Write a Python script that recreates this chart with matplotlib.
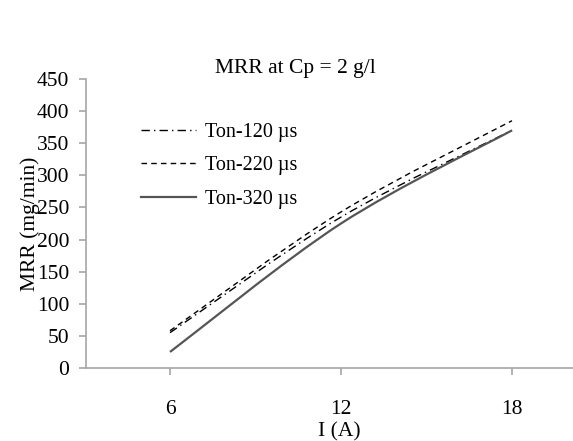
import numpy as np
import matplotlib.pyplot as plt
from matplotlib.path import Path
from matplotlib.patches import PathPatch

current = [6, 12, 18]
ton120 = [55, 235, 370]
ton220 = [58, 243, 385]
ton320 = [25, 225, 370]

plt.rcParams['font.family'] = ['Liberation Serif', 'DejaVu Serif']
plt.rcParams['font.size'] = 15.5


def smooth_path(xs, ys, t=0.5):
    # Excel-style smoothed line: cardinal spline as cubic Bezier segments
    pts = np.column_stack([xs, ys]).astype(float)
    verts = [pts[0]]
    codes = [Path.MOVETO]
    n = len(pts)
    for i in range(n - 1):
        p0 = pts[max(i - 1, 0)]
        p1 = pts[i]
        p2 = pts[i + 1]
        p3 = pts[min(i + 2, n - 1)]
        c1 = p1 + (p2 - p0) * t / 3
        c2 = p2 - (p3 - p1) * t / 3
        verts += [c1, c2, p2]
        codes += [Path.CURVE4] * 3
    return Path(verts, codes)


fig = plt.figure(figsize=(5.73, 4.41), dpi=100)
ax = fig.add_axes([0.150, 0.1655, 0.850, 0.6554])

styles = [
    (ton120, 'Ton-120 µs', dict(color='black', lw=1.0, ls=(0, (6, 3, 1, 3)))),
    (ton220, 'Ton-220 µs', dict(color='black', lw=1.0, ls=(0, (4, 3)))),
    (ton320, 'Ton-320 µs', dict(color='#555555', lw=1.6, ls='-')),
]
for ys, lab, st in styles:
    ax.add_patch(PathPatch(smooth_path(current, ys), fill=False, **st))
    ax.plot([], [], label=lab, **st)

ax.set_xlim(3.05, 20.14)
ax.set_ylim(0, 450)
ax.set_xticks(current)
ax.set_yticks(np.arange(0, 451, 50))

for s in ['top', 'right']:
    ax.spines[s].set_visible(False)
for s in ['left', 'bottom']:
    ax.spines[s].set_color('#a6a6a6')
    ax.spines[s].set_linewidth(1.2)
ax.tick_params(axis='both', colors='#a6a6a6', labelcolor='black', length=5, width=1.2)
ax.tick_params(axis='x', pad=18)
ax.tick_params(axis='y', pad=7)

ax.set_xlabel('I (A)', va='center')
ax.xaxis.set_label_coords(0.5 + (340 - 330) / 487, -0.22)
ax.set_ylabel('MRR (mg/min)', labelpad=-2)
fig.text(295 / 573, 1 - 69 / 441, 'MRR at Cp = 2 g/l', ha='center', va='center')

ax.legend(loc='upper left', bbox_to_anchor=(0.097, 0.875), frameon=False,
          prop={'size': 14.5}, handlelength=2.7, handletextpad=0.45,
          labelspacing=0.7, borderaxespad=0)

fig.savefig('out.png', dpi=100)
